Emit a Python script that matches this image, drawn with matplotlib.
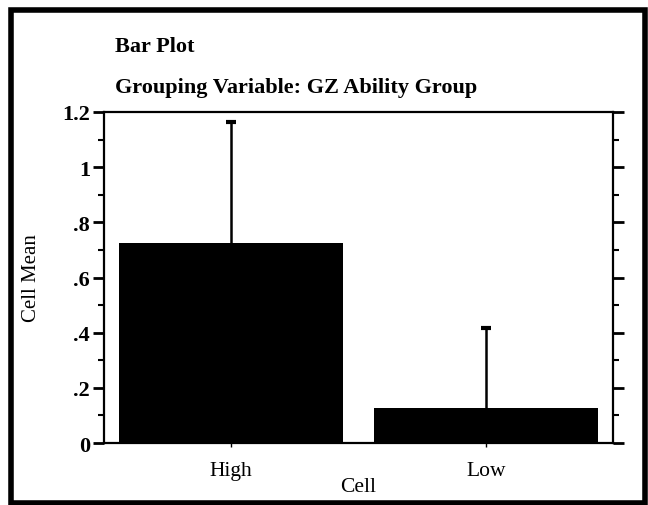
import numpy as np
import matplotlib.pyplot as plt
from matplotlib.patches import Rectangle
from matplotlib.ticker import MultipleLocator

# cell means with upper error (SD) for each GZ ability group
cells = ["High", "Low"]
means = [0.725, 0.127]
errors = [0.44, 0.29]
yticks = [0, 0.2, 0.4, 0.6, 0.8, 1.0, 1.2]
ytick_labels = ["0", ".2", ".4", ".6", ".8", "1", "1.2"]

plt.rcParams["font.family"] = ["Liberation Serif", "DejaVu Serif"]

fig = plt.figure(figsize=(6.48, 5.06), dpi=100)
W, H = 648, 506
ax = fig.add_axes([104 / W, 1 - 444 / H, 509 / W, 331 / H])

x = np.arange(len(cells))
tops = np.array(means) + np.array(errors)
ax.bar(x, means, width=0.88, color="black", zorder=2)
# upper error bars only, with a short cap
ax.vlines(x, means, tops, color="black", linewidth=1.8, zorder=3)
ax.plot(x, tops, linestyle="none", marker="_", markersize=7,
        markeredgewidth=3, color="black", zorder=3)

ax.set_xlim(-0.5, 1.5)
ax.set_ylim(0, 1.2)
ax.set_xticks(x)
ax.set_xticklabels(cells, fontsize=15.5)
ax.set_yticks(yticks)
ax.set_yticklabels(ytick_labels, fontsize=16, fontweight="bold")
ax.yaxis.set_minor_locator(MultipleLocator(0.1))

for s in ax.spines.values():
    s.set_linewidth(1.6)
ax.tick_params(axis="y", which="major", direction="out", length=8, width=2,
               right=True, pad=2)
ax.tick_params(axis="y", which="minor", direction="out", length=4, width=1.5,
               right=True)
ax.tick_params(axis="x", direction="out", length=3, width=1, pad=10)

ax.set_xlabel("Cell", fontsize=15.5, labelpad=-2)
ax.set_ylabel("Cell Mean", fontsize=15, labelpad=15)

fig.text(115 / W, 1 - 47 / H, "Bar Plot", fontsize=16, fontweight="bold",
         va="center", ha="left")
fig.text(115 / W, 1 - 88 / H, "Grouping Variable: GZ Ability Group",
         fontsize=16, fontweight="bold", va="center", ha="left")

# frame around the whole plot window
fig.patches.append(Rectangle((11 / W, 2 / H), 634 / W, 493 / H,
                             transform=fig.transFigure, fill=False,
                             edgecolor="black", linewidth=4))

fig.savefig("out.png", dpi=100)
